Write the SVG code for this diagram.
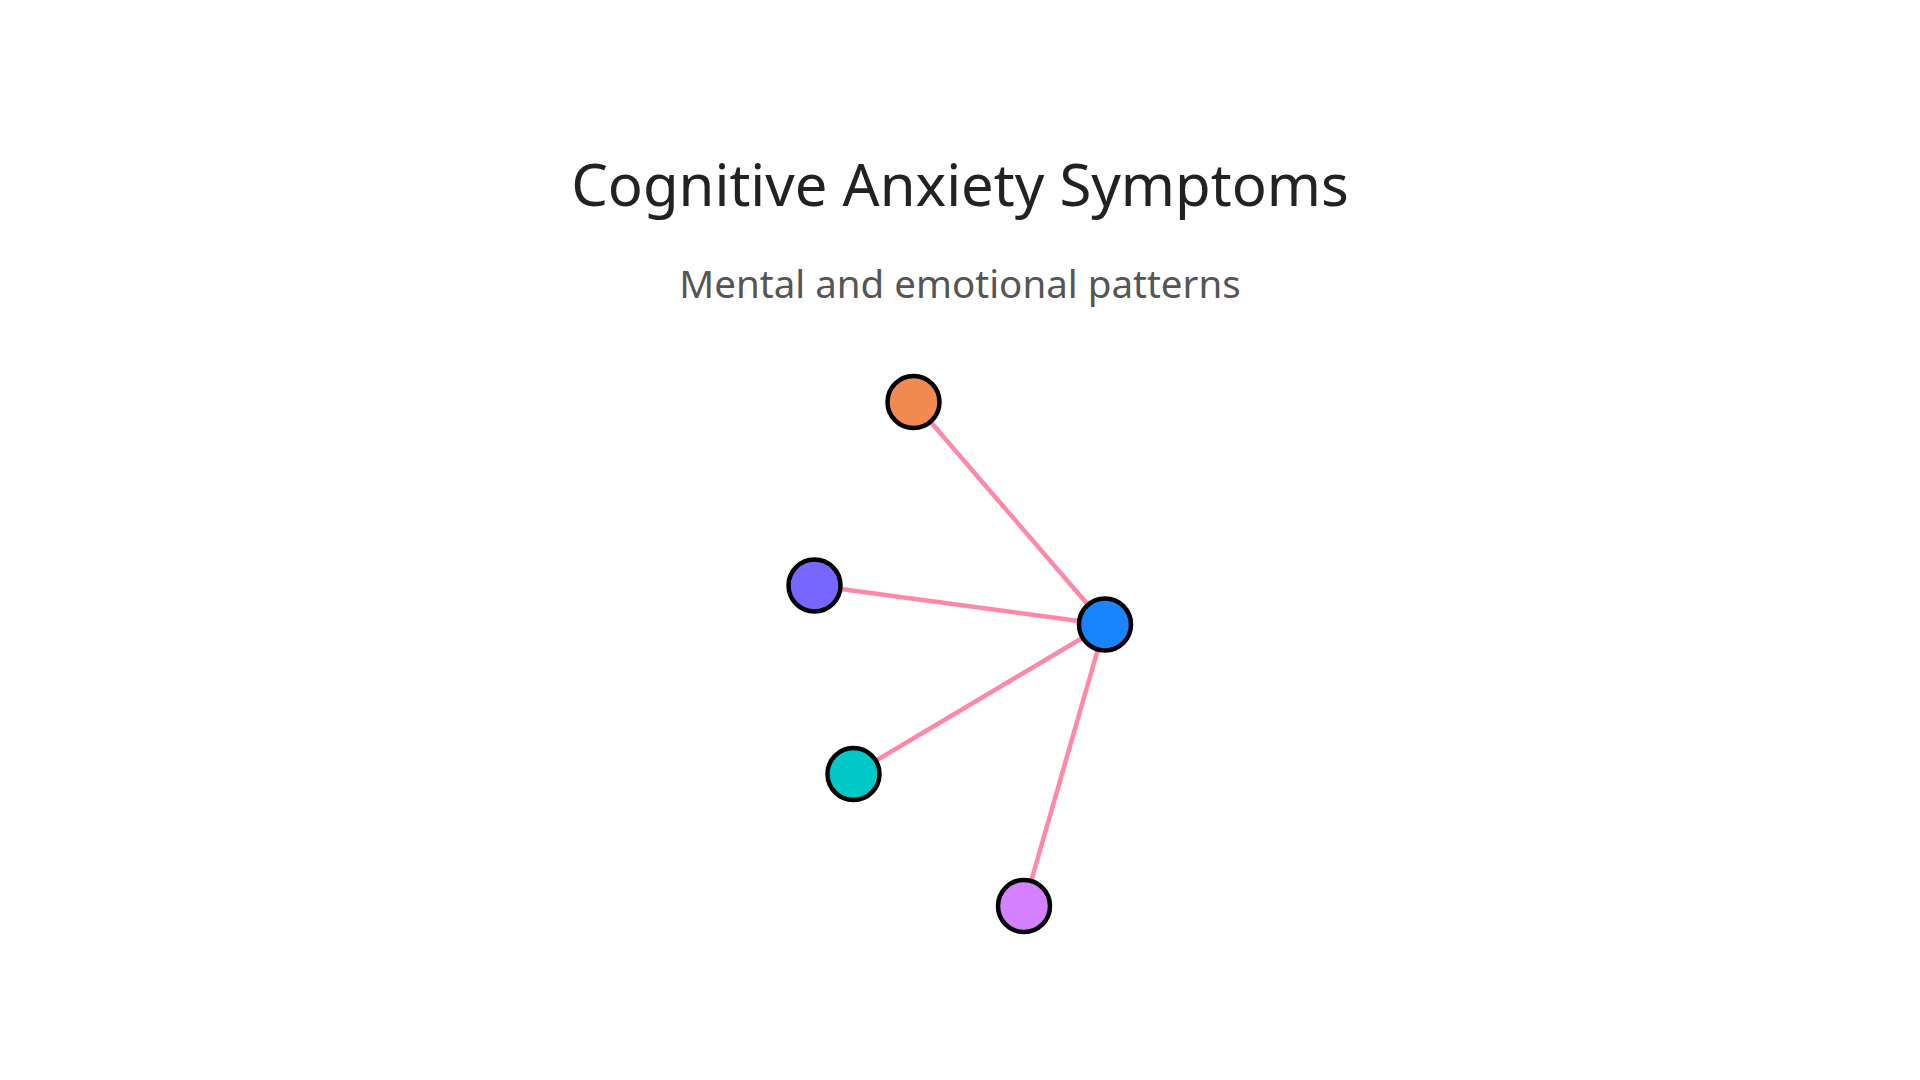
<svg xmlns="http://www.w3.org/2000/svg" width="1920" height="1080" viewBox="0 0 1920 1080">
<style>
.title{font-family:"Noto Sans","Open Sans",sans-serif;font-size:58px;fill:#222222;text-anchor:middle}
.sub{font-family:"Noto Sans","Open Sans",sans-serif;font-size:38.5px;fill:#555555;text-anchor:middle}
.edge{stroke:#FF88A8;stroke-width:4.5;fill:none}
.node{stroke:#000000;stroke-width:4.5}
</style>
<rect width="1920" height="1080" fill="#ffffff"/>
<text class="title" x="960" y="206">Cognitive Anxiety Symptoms</text>
<text class="sub" x="960" y="298">Mental and emotional patterns</text>
<g id="connectors">
<line class="edge" x1="1105" y1="624.5" x2="913.5" y2="402"/>
<line class="edge" x1="1105" y1="624.5" x2="814.5" y2="585.5"/>
<line class="edge" x1="1105" y1="624.5" x2="853.5" y2="774"/>
<line class="edge" x1="1105" y1="624.5" x2="1024" y2="906"/>
</g>
<g id="node-orange"><circle class="node" cx="913.5" cy="402" r="26" fill="#F08A50"/></g>
<g id="node-purple"><circle class="node" cx="814.5" cy="585.5" r="26" fill="#7766FF"/></g>
<g id="node-blue"><circle class="node" cx="1105" cy="624.5" r="26" fill="#1A84FF"/></g>
<g id="node-teal"><circle class="node" cx="853.5" cy="774" r="26" fill="#00C9C8"/></g>
<g id="node-violet"><circle class="node" cx="1024" cy="906" r="26" fill="#D580FF"/></g>
</svg>
